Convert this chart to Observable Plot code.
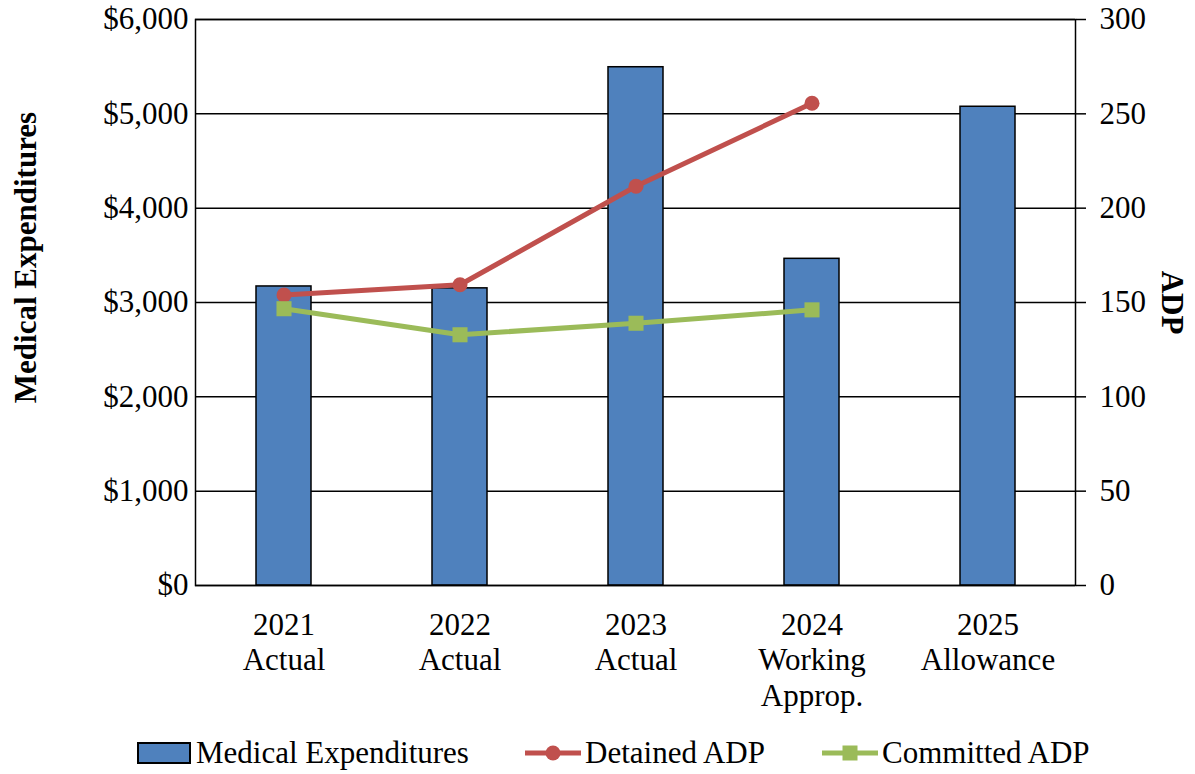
<!DOCTYPE html>
<html><head><meta charset="utf-8">
<script src="https://cdn.jsdelivr.net/npm/d3@7"></script>
<script src="https://cdn.jsdelivr.net/npm/@observablehq/plot@0.6"></script>
<style>
body{margin:0;background:#fff;font-family:"Liberation Serif","Times New Roman",serif;}
#legend{position:relative;width:1195px;height:49px;font-size:31px;color:#000;}
#legend .item{position:absolute;top:3px;height:49px;display:flex;align-items:center;white-space:nowrap;}
#legend svg{display:block;margin-right:4px;}
</style></head><body>
<div id="chart"></div>
<div id="legend"></div>
<script>
const categories = ["2021\nActual", "2022\nActual", "2023\nActual", "2024\nWorking\nApprop.", "2025\nAllowance"];
const medicalExpenditures = [3170, 3150, 5494, 3463, 5075];
const detainedADP = [154, 159.4, 211.6, 255.6, null];
const committedADP = [146.7, 132.9, 139.0, 146.1, null];
const dollarTicks = [0, 1000, 2000, 3000, 4000, 5000, 6000];
const adpTicks = [0, 50, 100, 150, 200, 250, 300];
const seriesNames = ["Medical Expenditures", "Detained ADP", "Committed ADP"];

const BLUE = "#4F81BD", RED = "#C0504D", GREEN = "#9BBB59";
const ratio = 6000 / 300;

const bars = categories.map((c, i) => ({cat: c, v: medicalExpenditures[i]}));
const det = categories.map((c, i) => ({cat: c, v: detainedADP[i]})).filter(d => d.v != null);
const com = categories.map((c, i) => ({cat: c, v: committedADP[i]})).filter(d => d.v != null);

const chart = Plot.plot({
  width: 1195,
  height: 725,
  marginLeft: 195,
  marginRight: 120,
  marginTop: 19,
  marginBottom: 140,
  style: {fontFamily: "'Liberation Serif', 'Times New Roman', serif", fontSize: "31px", color: "black", background: "white"},
  x: {domain: categories, paddingInner: 0.6875, paddingOuter: 0.34375, axis: null},
  y: {domain: [0, 6000], axis: null},
  marks: [
    Plot.gridY(dollarTicks, {stroke: "black", strokeOpacity: 1, strokeWidth: 1.5}),
    Plot.barY(bars, {x: "cat", y: "v", fill: BLUE, stroke: "black", strokeWidth: 1.5}),
    Plot.frame({stroke: "black", strokeWidth: 1.5}),
    Plot.axisY({anchor: "left", ticks: dollarTicks, tickFormat: d3.format("$,.0f"), tickSize: 0, tickPadding: 7, label: null, fontSize: 31}),
    Plot.axisY({anchor: "right", ticks: adpTicks.map(d => d * ratio), tickFormat: d => String(d / ratio), tickSize: 10, tickPadding: 14, label: null, fontSize: 31, strokeWidth: 1.5}),
    Plot.axisX({anchor: "bottom", tickSize: 0, tickPadding: 24, label: null, fontSize: 31, lineHeight: 1.15}),
    Plot.line(det, {x: "cat", y: d => d.v * ratio, stroke: RED, strokeWidth: 5}),
    Plot.dot(det, {x: "cat", y: d => d.v * ratio, r: 7.5, fill: RED}),
    Plot.line(com, {x: "cat", y: d => d.v * ratio, stroke: GREEN, strokeWidth: 5}),
    Plot.dot(com, {x: "cat", y: d => d.v * ratio, r: 8.5, symbol: "square", fill: GREEN}),
    Plot.text(["Medical Expenditures"], {frameAnchor: "left", textAnchor: "middle", lineAnchor: "middle", dx: -169, dy: -45, rotate: -90, fontWeight: "bold", fontSize: 31}),
    Plot.text(["ADP"], {frameAnchor: "right", textAnchor: "middle", lineAnchor: "middle", dx: 96, rotate: 90, fontWeight: "bold", fontSize: 31})
  ]
});
document.getElementById("chart").appendChild(chart);

// Legend
const legend = document.getElementById("legend");
const lefts = [137, 525, 822];
seriesNames.forEach((name, i) => {
  const item = document.createElement("div");
  item.className = "item";
  item.style.left = lefts[i] + "px";
  let sw;
  if (i === 0) {
    sw = `<svg width="55" height="24"><rect x="1" y="2" width="52" height="20" fill="${BLUE}" stroke="black" stroke-width="2"/></svg>`;
  } else if (i === 1) {
    sw = `<svg width="56" height="24"><line x1="0" x2="56" y1="12" y2="12" stroke="${RED}" stroke-width="5"/><circle cx="28" cy="12" r="7.5" fill="${RED}"/></svg>`;
  } else {
    sw = `<svg width="56" height="24"><line x1="0" x2="56" y1="12" y2="12" stroke="${GREEN}" stroke-width="5"/><rect x="20.5" y="4.5" width="15" height="15" fill="${GREEN}"/></svg>`;
  }
  item.innerHTML = sw + `<span>${name}</span>`;
  legend.appendChild(item);
});
</script>
</body></html>
